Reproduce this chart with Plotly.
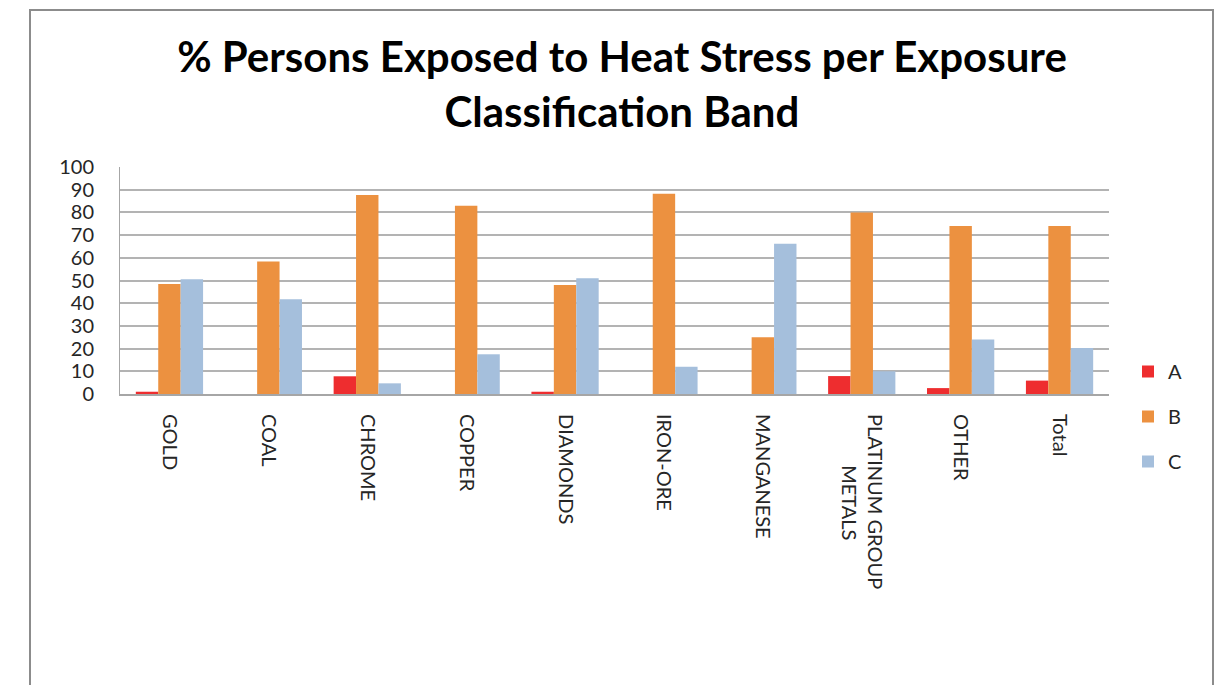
import plotly.graph_objects as go

# Mining commodity groups and the share of persons in each exposure band (%)
categories = ["GOLD", "COAL", "CHROME", "COPPER", "DIAMONDS", "IRON-ORE",
              "MANGANESE", "PLATINUM GROUP<br>" + "&nbsp;" * 10 + "METALS",
              "OTHER", "Total"]
band_a = [1.0, 0.0, 7.8, 0.0, 1.0, 0.0, 0.0, 7.9, 2.6, 5.9]
band_b = [48.5, 58.4, 87.7, 82.9, 48.0, 88.2, 25.0, 80.0, 74.0, 74.0]
band_c = [50.6, 41.7, 4.7, 17.5, 51.0, 12.0, 66.2, 10.0, 24.0, 20.3]
y_ticks = list(range(0, 101, 10))

series = [("A", band_a, "#ee2d2f"), ("B", band_b, "#ec9140"), ("C", band_c, "#a5bfdc")]

FONT = "Lato, 'Open Sans', sans-serif"

fig = go.Figure()
for name, vals, color in series:
    fig.add_trace(go.Bar(
        x=categories, y=vals, name=name, legendgroup=name,
        marker=dict(color=color, line=dict(width=0)),
    ))

W, H = 1217, 685
L, R, T, B = 120, 108, 167, 291
pw, ph = W - L - R, H - T - B

def px_x(x):
    return (x - L) / pw

def px_y(y):
    return (H - B - y) / ph

fig.update_layout(
    width=W, height=H,
    margin=dict(l=L, r=R, t=T, b=B, autoexpand=False),
    paper_bgcolor="white", plot_bgcolor="white",
    barmode="group", bargap=0.32, bargroupgap=0,
    font=dict(family=FONT, color="#262626"),
    title=dict(
        text="<b>% Persons Exposed to Heat Stress per Exposure<br>Classification Band</b>",
        x=622 / W, xanchor="center", xref="container",
        y=1 - 72 / H, yanchor="middle", yref="container",
        font=dict(size=42, family=FONT, color="#000000"),
    ),
    legend=dict(
        x=px_x(1128), y=px_y(352), xanchor="left", yanchor="top",
        font=dict(size=20, family=FONT, color="#262626"),
        traceorder="grouped", tracegroupgap=16,
        itemwidth=30, bgcolor="rgba(0,0,0,0)",
    ),
    xaxis=dict(
        type="category", tickangle=90, ticks="", ticklabelstandoff=14,
        tickfont=dict(size=20, family=FONT, color="#262626"),
        showline=True, linecolor="#a6a6a6", linewidth=2,
        showgrid=False, zeroline=False,
    ),
    yaxis=dict(
        range=[0, 100], tickvals=y_ticks, ticks="",
        tickfont=dict(size=20, family=FONT, color="#262626"),
        showline=True, linecolor="#a6a6a6", linewidth=1,
        showgrid=True, gridcolor="#b3b3b3", gridwidth=1.5,
        zeroline=False, ticklabelstandoff=21,
    ),
    shapes=[dict(
        type="rect", xref="paper", yref="paper",
        x0=px_x(30), x1=px_x(1213), y0=px_y(720), y1=px_y(10),
        line=dict(color="#8c8c8c", width=2), fillcolor="rgba(0,0,0,0)",
        layer="below",
    )],
)

fig.write_html("out.html")
